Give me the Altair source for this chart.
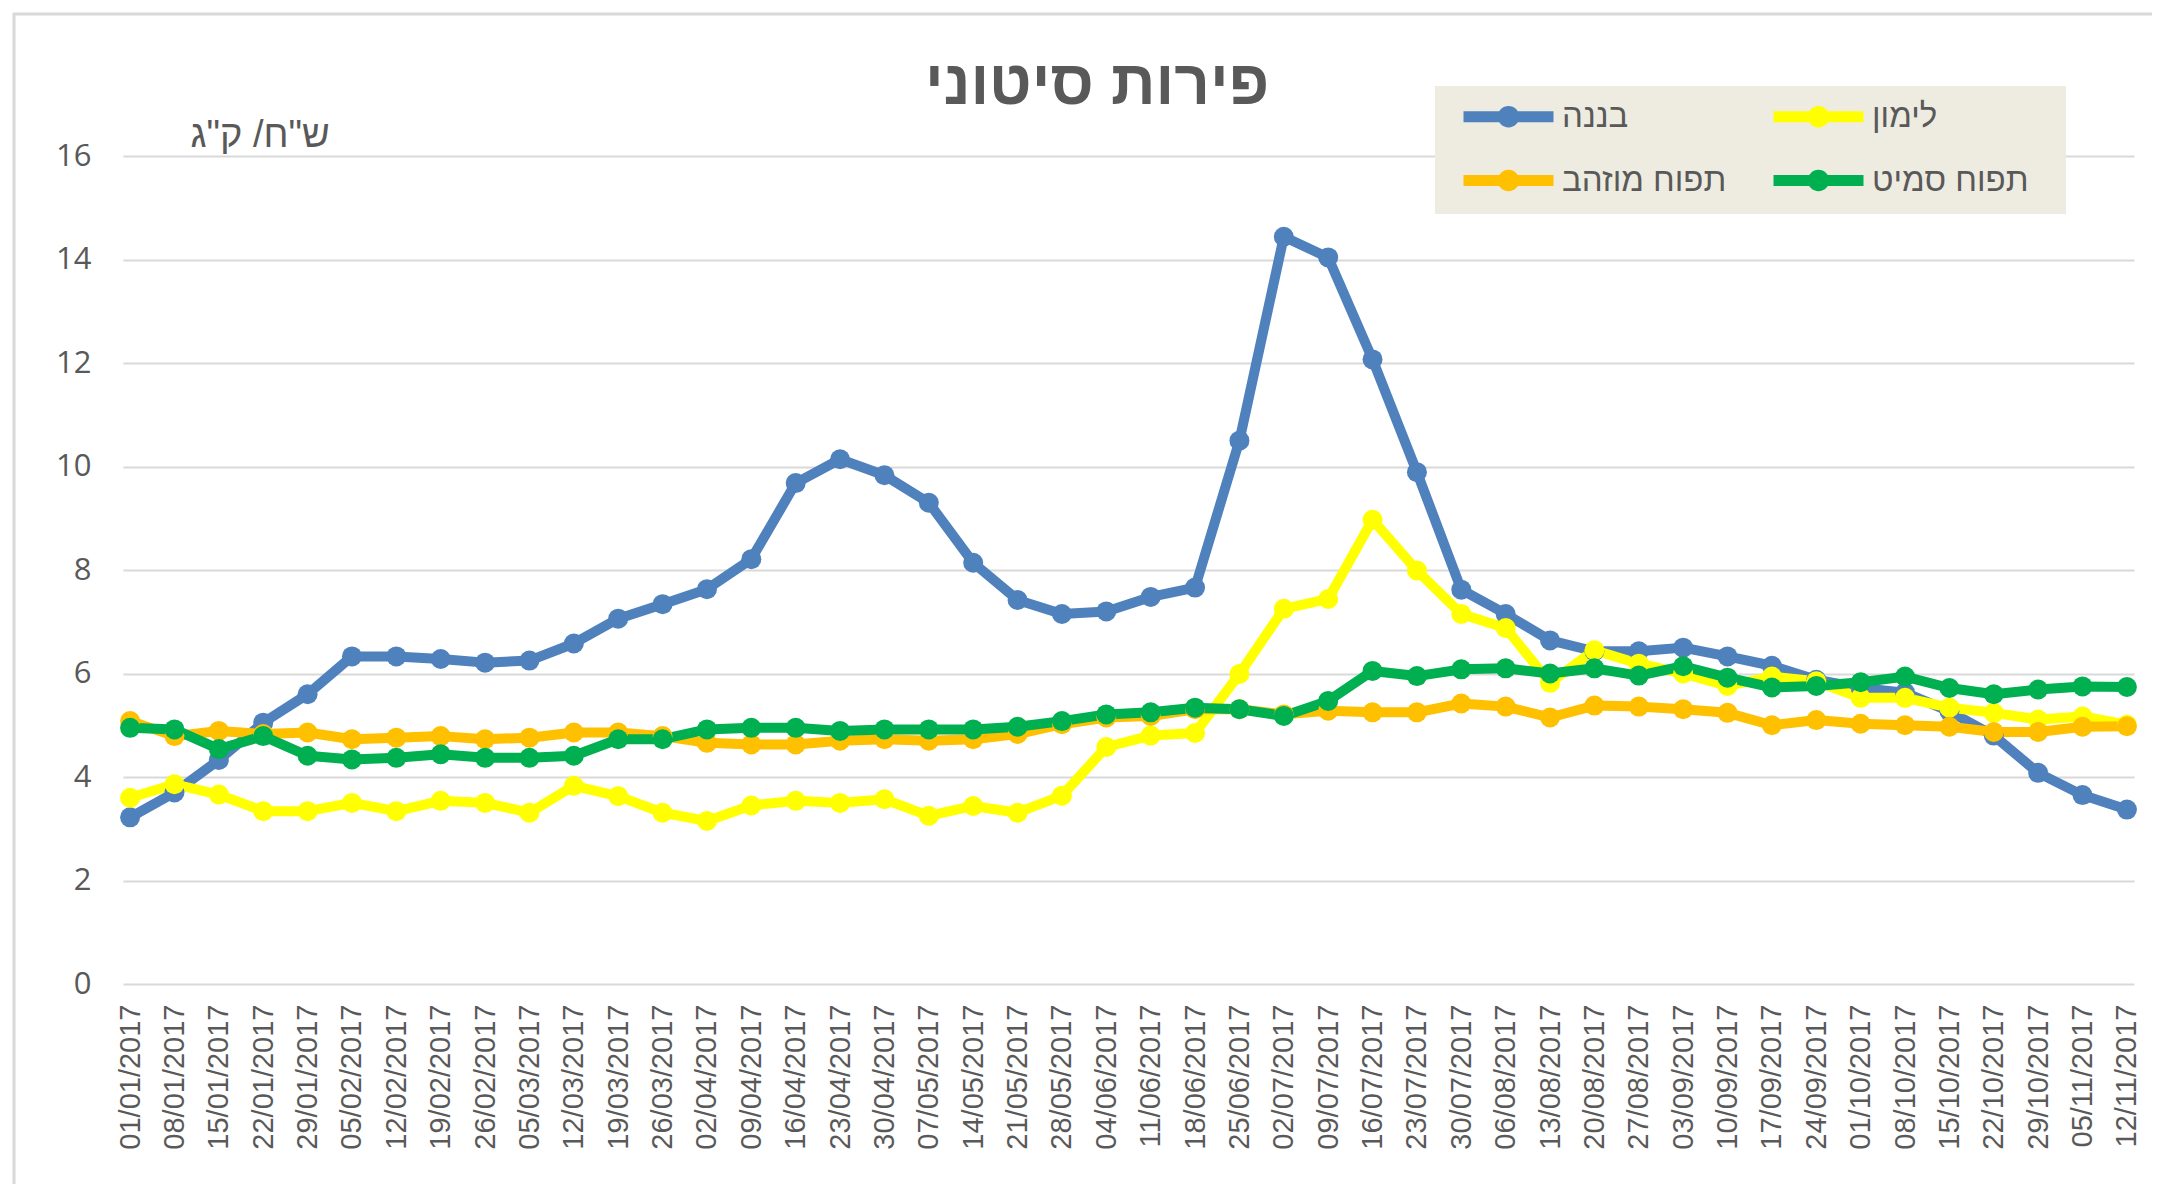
import altair as alt
import pandas as pd

DATES = ["01/01/2017", "08/01/2017", "15/01/2017", "22/01/2017", "29/01/2017",
         "05/02/2017", "12/02/2017", "19/02/2017", "26/02/2017",
         "05/03/2017", "12/03/2017", "19/03/2017", "26/03/2017",
         "02/04/2017", "09/04/2017", "16/04/2017", "23/04/2017", "30/04/2017",
         "07/05/2017", "14/05/2017", "21/05/2017", "28/05/2017",
         "04/06/2017", "11/06/2017", "18/06/2017", "25/06/2017",
         "02/07/2017", "09/07/2017", "16/07/2017", "23/07/2017", "30/07/2017",
         "06/08/2017", "13/08/2017", "20/08/2017", "27/08/2017",
         "03/09/2017", "10/09/2017", "17/09/2017", "24/09/2017",
         "01/10/2017", "08/10/2017", "15/10/2017", "22/10/2017", "29/10/2017",
         "05/11/2017", "12/11/2017"]

BANANA = [3.22, 3.70, 4.33, 5.05, 5.60, 6.33, 6.33, 6.28, 6.21, 6.25, 6.58, 7.06,
          7.34, 7.63, 8.21, 9.68, 10.14, 9.83, 9.30, 8.14, 7.42, 7.15, 7.20, 7.48,
          7.66, 10.50, 14.44, 14.04, 12.07, 9.89, 7.62, 7.15, 6.64, 6.43, 6.43,
          6.50, 6.33, 6.15, 5.88, 5.72, 5.63, 5.27, 4.80, 4.08, 3.65, 3.37]
LEMON = [3.60, 3.86, 3.66, 3.34, 3.34, 3.50, 3.34, 3.54, 3.50, 3.31, 3.83, 3.63,
         3.31, 3.15, 3.45, 3.54, 3.50, 3.57, 3.25, 3.44, 3.31, 3.64, 4.58, 4.80,
         4.85, 5.99, 7.25, 7.44, 8.97, 7.99, 7.15, 6.88, 5.82, 6.45, 6.19, 6.00,
         5.76, 5.94, 5.85, 5.53, 5.53, 5.34, 5.24, 5.11, 5.17, 5.01]
GOLDEN = [5.08, 4.79, 4.89, 4.83, 4.86, 4.73, 4.76, 4.79, 4.73, 4.76, 4.86, 4.86,
          4.79, 4.66, 4.63, 4.63, 4.70, 4.73, 4.70, 4.73, 4.83, 5.02, 5.15, 5.18,
          5.31, 5.31, 5.21, 5.28, 5.25, 5.25, 5.42, 5.36, 5.15, 5.38, 5.36, 5.31,
          5.24, 5.00, 5.10, 5.03, 5.00, 4.97, 4.87, 4.87, 4.97, 4.98]
SMITH = [4.95, 4.92, 4.54, 4.79, 4.41, 4.34, 4.37, 4.44, 4.37, 4.37, 4.41, 4.73,
         4.73, 4.92, 4.95, 4.95, 4.89, 4.92, 4.92, 4.92, 4.97, 5.08, 5.21, 5.25,
         5.34, 5.31, 5.18, 5.47, 6.05, 5.95, 6.08, 6.10, 6.00, 6.10, 5.96, 6.14,
         5.92, 5.73, 5.76, 5.83, 5.94, 5.72, 5.60, 5.69, 5.75, 5.74]

SERIES = ["בננה", "לימון", "תפוח מוזהב", "תפוח סמיט"]
COLORS = ["#4F81BD", "#FFFF00", "#FFC000", "#00B050"]
TITLE = "פירות סיטוני"
Y_TITLE = 'ש"ח/ ק"ג'
Y_TICKS = [0, 2, 4, 6, 8, 10, 12, 14, 16]

TEXT = "#595959"
GRID = "#D9D9D9"
LEGEND_BG = "#EEECE1"
HEB = "Liberation Sans, Arial, DejaVu Sans"

rows = []
for name, vals in zip(SERIES, [BANANA, LEMON, GOLDEN, SMITH]):
    for i, (d, v) in enumerate(zip(DATES, vals)):
        rows.append({"date": d, "idx": i, "series": name, "value": v})
df = pd.DataFrame(rows)

# legend symbol: thick line with a filled circle marker in the middle
LEG_PATH = ("M-1,0L5,0"
            "M2.35,0A0.35,0.35,0,1,1,1.65,0A0.35,0.35,0,1,1,2.35,0"
            "M2.1,0A0.1,0.1,0,1,1,1.9,0A0.1,0.1,0,1,1,2.1,0")

lines = alt.Chart(df).mark_line(
    strokeWidth=10, strokeJoin="round", strokeCap="round",
    point=alt.OverlayMarkDef(filled=True, size=400, opacity=1),
).encode(
    x=alt.X("date:N", sort=DATES,
            scale=alt.Scale(type="point", padding=0.16),
            axis=alt.Axis(title=None, labelAngle=-90, labelFont=HEB,
                          labelFontSize=29, labelColor=TEXT, labelPadding=20,
                          domain=False, ticks=False, grid=False,
                          labelOverlap=False)),
    y=alt.Y("value:Q", scale=alt.Scale(domain=[0, 16], nice=False),
            axis=alt.Axis(values=Y_TICKS, grid=True, gridColor=GRID,
                          gridWidth=2, domain=False, ticks=False,
                          labelFont="Open Sans, Liberation Sans",
                          labelFontSize=31, labelColor=TEXT, labelPadding=32,
                          title=Y_TITLE, titleAngle=0, titleAlign="left",
                          titleBaseline="middle", titleX=67, titleY=-21,
                          titleFont=HEB, titleFontSize=38,
                          titleFontWeight="normal", titleColor=TEXT)),
    color=alt.Color("series:N",
                    scale=alt.Scale(domain=SERIES, range=COLORS),
                    legend=alt.Legend(title=None, orient="none",
                                      legendX=1335, legendY=-60, columns=2,
                                      direction="horizontal",
                                      padding=0, labelLimit=400,
                                      symbolType=LEG_PATH, symbolSize=900,
                                      symbolStrokeWidth=11,
                                      labelFont=HEB, labelFontSize=33,
                                      labelColor=TEXT, labelOffset=63,
                                      rowPadding=9, columnPadding=24)),
    order=alt.Order("idx:Q"),
)

legend_box = alt.Chart(pd.DataFrame({"b": [0]})).mark_rect(
    fill=LEGEND_BG,
).encode(x=alt.value(1312), y=alt.value(-70),
         x2=alt.value(1943), y2=alt.value(58))

title = alt.Chart(pd.DataFrame({"t": [TITLE]})).mark_text(
    font=HEB, fontSize=62, fontWeight="bold", color=TEXT,
    align="center", baseline="middle",
).encode(text="t:N", x=alt.value(974), y=alt.value(-71))

border = alt.Chart(pd.DataFrame({"b": [0]})).mark_rect(
    fillOpacity=0, stroke=GRID, strokeWidth=3,
).encode(x=alt.value(-109), y=alt.value(-142),
         x2=alt.value(2300), y2=alt.value(1300))

chart = alt.layer(border, legend_box, lines, title).properties(
    width=2011, height=828,
    padding={"left": 115, "top": 148, "right": 18, "bottom": 200},
    autosize=alt.AutoSizeParams(type="none"),
    background="white",
).configure_view(strokeOpacity=0)

chart.save("out.html", embed_options={"renderer": "svg", "actions": False})
